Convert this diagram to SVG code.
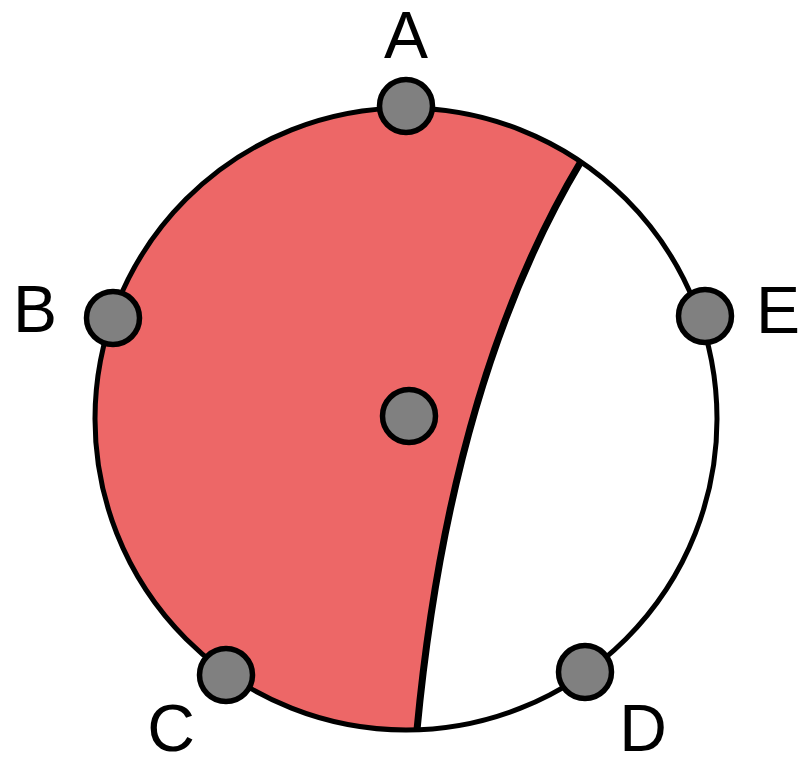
<svg xmlns="http://www.w3.org/2000/svg" width="798" height="758" viewBox="0 0 798 758">
<style>
.lbl{font-family:"Liberation Sans",Arial,sans-serif;font-size:66px;fill:#000;text-anchor:middle}
.dot{fill:#808080;stroke:#000;stroke-width:5.5}
</style>
<rect width="798" height="758" fill="#fff"/>
<g id="region">
<path d="M580.8,161.8 A311,311 0 1 0 417,729.8 Q450,380 580.8,161.8 Z" fill="#ED6767"/>
</g>
<g id="connectors">
<circle cx="406" cy="419" r="311" fill="none" stroke="#000" stroke-width="5"/>
<path d="M417,729.8 Q450,380 580.8,161.8" fill="none" stroke="#000" stroke-width="7"/>
</g>
<g id="nodeA"><circle class="dot" cx="406" cy="106" r="26.5"/><text class="lbl" x="406" y="58">A</text></g>
<g id="nodeB"><circle class="dot" cx="113" cy="318" r="26.5"/><text class="lbl" x="35" y="332">B</text></g>
<g id="nodeE"><circle class="dot" cx="705" cy="316" r="26.5"/><text class="lbl" x="778" y="333">E</text></g>
<g id="nodeC"><circle class="dot" cx="226" cy="675" r="26.5"/><text class="lbl" x="171" y="751">C</text></g>
<g id="nodeD"><circle class="dot" cx="585" cy="672" r="26.5"/><text class="lbl" x="643" y="751">D</text></g>
<g id="nodeCenter"><circle class="dot" cx="409" cy="416" r="26.5"/></g>
</svg>
